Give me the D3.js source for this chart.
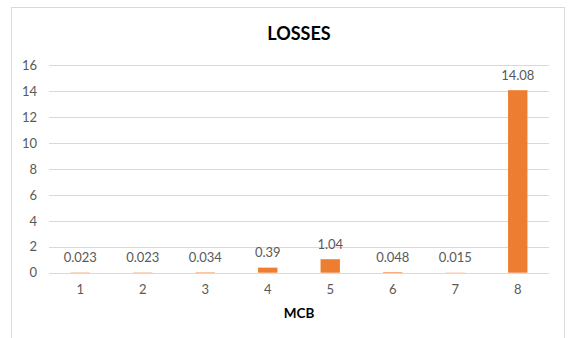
<!DOCTYPE html>
<html>
<head>
<meta charset="utf-8">
<script src="https://cdn.jsdelivr.net/npm/d3@7"></script>
<style>
  html, body { margin: 0; padding: 0; background: #fff; }
  svg { display: block; font-family: Lato, "Open Sans", sans-serif; }
</style>
</head>
<body>
<svg id="chart" width="568" height="338"></svg>
<script>
// MCB losses per breaker
const categories = ["1", "2", "3", "4", "5", "6", "7", "8"];
const losses = [0.023, 0.023, 0.034, 0.39, 1.04, 0.048, 0.015, 14.08];
const labels = ["0.023", "0.023", "0.034", "0.39", "1.04", "0.048", "0.015", "14.08"];
const yTicks = [0, 2, 4, 6, 8, 10, 12, 14, 16];

const svg = d3.select("#chart");
const plot = { left: 49, right: 549, top: 65.3, bottom: 272.7 };
const fontLabel = "13px";

// outer chart frame
svg.append("rect")
  .attr("x", 11.5).attr("y", 7.5)
  .attr("width", 553).attr("height", 340)
  .attr("fill", "#fff").attr("stroke", "#d9d9d9").attr("stroke-width", 1);

const x = d3.scaleBand().domain(categories)
  .range([plot.left, plot.right]).paddingInner(0.69).paddingOuter(0.345);
const y = d3.scaleLinear().domain([0, 16]).range([plot.bottom, plot.top]);

// horizontal gridlines
svg.append("g").selectAll("line").data(yTicks).join("line")
  .attr("x1", plot.left).attr("x2", plot.right)
  .attr("y1", d => Math.round(y(d)) + 0.5).attr("y2", d => Math.round(y(d)) + 0.5)
  .attr("stroke", "#d9d9d9").attr("stroke-width", 1);

// y axis labels
const yAxis = d3.axisLeft(y).tickValues(yTicks).tickSize(0).tickPadding(0);
svg.append("g").attr("transform", `translate(${plot.left - 12},0)`)
  .call(yAxis)
  .call(g => g.select(".domain").remove())
  .call(g => g.selectAll("text").attr("fill", "#595959").style("font-size", fontLabel).style("font-family", "Lato, sans-serif"));

// x axis labels
const xAxis = d3.axisBottom(x).tickSize(0).tickPadding(0);
svg.append("g").attr("transform", `translate(0,${plot.bottom + 12})`)
  .call(xAxis)
  .call(g => g.select(".domain").remove())
  .call(g => g.selectAll("text").attr("fill", "#595959").style("font-size", fontLabel).style("font-family", "Lato, sans-serif"));

// bars
svg.append("g").selectAll("rect").data(losses).join("rect")
  .attr("x", (d, i) => x(categories[i]))
  .attr("width", x.bandwidth())
  .attr("y", d => y(d))
  .attr("height", d => y(0) - y(d))
  .attr("fill", "#ed7d31");

// value labels
svg.append("g").selectAll("text").data(losses).join("text")
  .attr("x", (d, i) => x(categories[i]) + x.bandwidth() / 2)
  .attr("y", d => y(d) - 10.5)
  .attr("text-anchor", "middle")
  .attr("fill", "#595959")
  .style("font-size", fontLabel)
  .text((d, i) => labels[i]);

// title
svg.append("text")
  .attr("x", (plot.left + plot.right) / 2).attr("y", 40)
  .attr("text-anchor", "middle")
  .attr("fill", "#000")
  .style("font-size", "18px").style("font-weight", "bold")
  .text("LOSSES");

// x axis title
svg.append("text")
  .attr("x", (plot.left + plot.right) / 2).attr("y", 318)
  .attr("text-anchor", "middle")
  .attr("fill", "#000")
  .style("font-size", "13.5px").style("font-weight", "bold")
  .text("MCB");
</script>
</body>
</html>
